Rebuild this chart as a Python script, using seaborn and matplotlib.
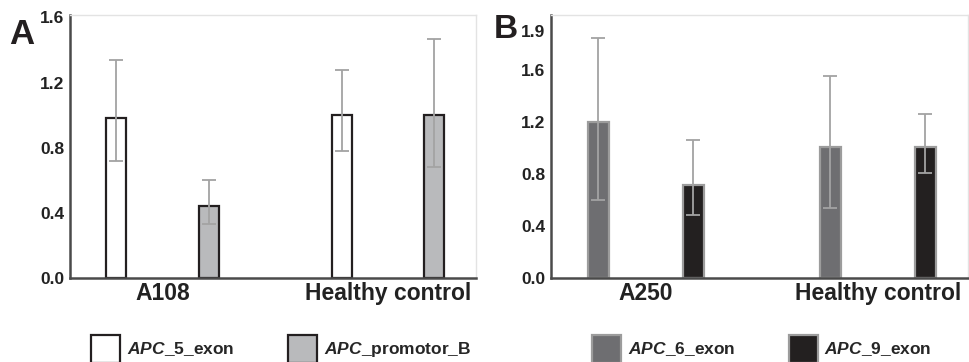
import pandas as pd
import seaborn as sns
import matplotlib.pyplot as plt

# Panel A values (relative expression)
groups_a = ['A108', 'Healthy control']
genes_a = [r'$\mathit{APC}$_5_exon', r'$\mathit{APC}$_promotor_B']
means_a = {genes_a[0]: [0.98, 1.00], genes_a[1]: [0.44, 1.00]}
low_a = {genes_a[0]: [0.72, 0.78], genes_a[1]: [0.33, 0.68]}
high_a = {genes_a[0]: [1.34, 1.28], genes_a[1]: [0.60, 1.47]}

# Panel B values
groups_b = ['A250', 'Healthy control']
genes_b = [r'$\mathit{APC}$_6_exon', r'$\mathit{APC}$_9_exon']
means_b = {genes_b[0]: [1.20, 1.01], genes_b[1]: [0.715, 1.01]}
low_b = {genes_b[0]: [0.60, 0.54], genes_b[1]: [0.485, 0.81]}
high_b = {genes_b[0]: [1.84, 1.55], genes_b[1]: [1.06, 1.26]}

sns.set_style('white')
plt.rcParams['font.family'] = ['Liberation Sans', 'DejaVu Sans']
plt.rcParams['font.weight'] = 'bold'
plt.rcParams['mathtext.fontset'] = 'custom'
plt.rcParams['mathtext.it'] = 'Liberation Sans:italic:bold'
plt.rcParams['mathtext.rm'] = 'Liberation Sans:bold'


def make_df(groups, genes, means):
    rows = []
    for g in genes:
        for grp, v in zip(groups, means[g]):
            rows.append({'group': grp, 'gene': g, 'value': v})
    return pd.DataFrame(rows)


def draw_panel(ax, groups, genes, means, low, high, colors, edge, ylim, yticks, legend_x):
    df = make_df(groups, genes, means)
    sns.barplot(data=df, x='group', y='value', hue='gene', hue_order=genes,
                palette=dict(zip(genes, colors)), edgecolor=edge, linewidth=1.6,
                width=0.82, gap=0.78, errorbar=None, ax=ax)
    # asymmetric error bars at the bar centres
    for gene, cont in zip(genes, ax.containers):
        for j, bar in enumerate(cont):
            x = bar.get_x() + bar.get_width() / 2
            m = means[gene][j]
            ax.errorbar(x, m, yerr=[[m - low[gene][j]], [high[gene][j] - m]],
                        fmt='none', ecolor='#a3a3a3', elinewidth=1.3,
                        capsize=4.8, capthick=1.3, zorder=5)
    ax.set_xlim(-0.41, 1.39)
    ax.set_ylim(*ylim)
    ax.set_yticks(yticks)
    ax.set_yticklabels([f'{t:.1f}' for t in yticks], fontsize=12.5, fontweight='bold')
    ax.set_xticks([0, 1])
    ax.set_xticklabels(groups, fontsize=16.5, fontweight='bold')
    ax.tick_params(axis='both', length=0, colors='#222222')
    ax.tick_params(axis='y', pad=4)
    ax.tick_params(axis='x', pad=3)
    ax.set_xlabel('')
    ax.set_ylabel('')
    for s in ['left', 'bottom']:
        ax.spines[s].set_color('#4a4a4a')
        ax.spines[s].set_linewidth(1.8)
    for s in ['top', 'right']:
        ax.spines[s].set_color('#e3e3e3')
        ax.spines[s].set_linewidth(1.0)
    handles, labels = ax.get_legend_handles_labels()
    ax.legend(handles, labels, loc='center', bbox_to_anchor=(legend_x, 1 - 349 / 362),
              bbox_transform=fig.transFigure, ncol=2, frameon=False, fontsize=12.5,
              handlelength=1.65, handleheight=2.1, handletextpad=0.4,
              columnspacing=3.1)


fig = plt.figure(figsize=(9.69, 3.62), dpi=100)
ax_a = fig.add_axes([70 / 969, 1 - 278 / 362, 406 / 969, 263 / 362])
ax_b = fig.add_axes([551 / 969, 1 - 278 / 362, 417 / 969, 263 / 362])

draw_panel(ax_a, groups_a, genes_a, means_a, low_a, high_a,
           ['#ffffff', '#b9babc'], '#231f20', (0, 1.615), [0.0, 0.4, 0.8, 1.2, 1.6], 281 / 969)
draw_panel(ax_b, groups_b, genes_b, means_b, low_b, high_b,
           ['#6d6e71', '#231f20'], '#9c9c9c', (0, 2.02), [0.0, 0.4, 0.8, 1.2, 1.6, 1.9], 762 / 969)

fig.text(9 / 969, 1 - 34 / 362, 'A', fontsize=25, fontweight='bold', va='center', color='#231f20')
fig.text(494 / 969, 1 - 30 / 362, 'B', fontsize=24, fontweight='bold', va='center', color='#231f20')

fig.savefig('out.png', dpi=100)
